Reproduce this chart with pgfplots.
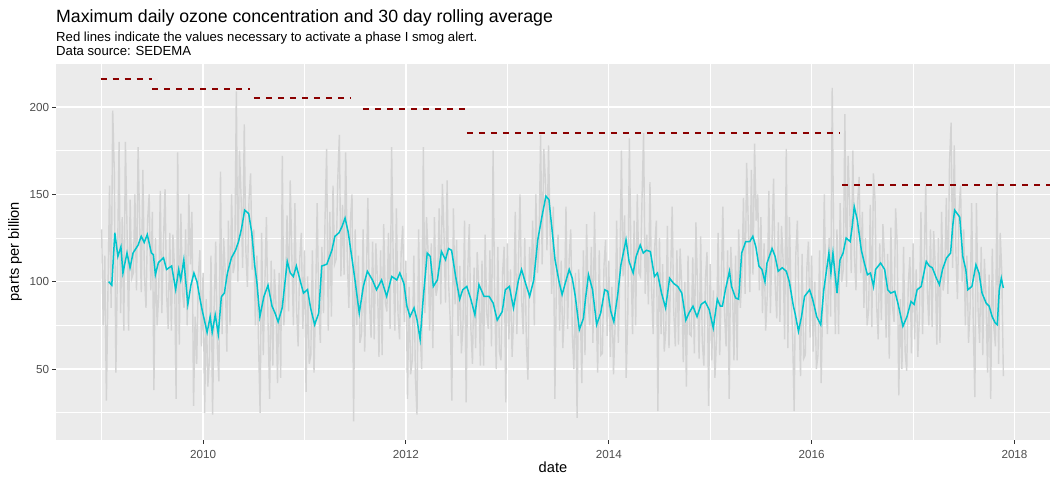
\documentclass[border=0pt]{standalone}
\usepackage{fontspec}
\setmainfont{Liberation Sans}
\usepackage{pgfplots}
\pgfplotsset{compat=1.18}
\definecolor{panel}{HTML}{EBEBEB}
\definecolor{dayline}{HTML}{D3D3D3}
\definecolor{rollcyan}{HTML}{00C5CD}
\definecolor{alertred}{HTML}{8B0000}
\definecolor{grey30}{HTML}{4D4D4D}
\definecolor{grey20}{HTML}{333333}
\begin{document}
\begin{tikzpicture}
\useasboundingbox (-56bp,-40bp) rectangle (1000bp,440bp);
\begin{axis}[
  at={(0,0)}, anchor=south west,
  width=994bp, height=377bp, scale only axis,
  xmin=2008.55, xmax=2018.35, ymin=9.4, ymax=225.2,
  axis background/.style={fill=panel},
  axis line style={draw=none},
  xtick={2010,2012,2014,2016,2018},
  xticklabels={2010,2012,2014,2016,2018},
  minor xtick={2009,2011,2013,2015,2017},
  ytick={50,100,150,200},
  yticklabels={50,100,150,200},
  minor ytick={25,75,125,175,225},
  grid=both,
  major grid style={white, line width=1.3bp},
  minor grid style={white, line width=0.65bp},
  tick align=outside, tick pos=left,
  major tick length=3.7bp, minor tick length=0pt,
  tick style={color=grey20, line width=1bp},
  ticklabel style={font=\fontsize{11.7}{13}\selectfont, text=grey30},
  xticklabel style={anchor=north, inner sep=0pt, yshift=-6.5bp},
  yticklabel style={anchor=east, inner sep=0pt, xshift=-3bp},
  xlabel={date}, ylabel={parts per billion},
  label style={font=\fontsize{14.7}{16}\selectfont},
  xlabel style={at={(axis description cs:0.5,-0.072)}, anchor=center},
  ylabel style={at={(axis description cs:-0.0412,0.5)}, anchor=center},
  unbounded coords=jump,
  /pgf/number format/assume math mode=true,
]
% daily maximum, one value every 1/64 year from 2009-01-01
\addplot[dayline, line width=1.4bp] table[row sep=\\, header=false, x expr={2009+\coordindex/64}, y index=0] {
130\\75\\115\\32\\95\\155\\85\\198\\163\\48\\110\\180\\82\\137\\72\\180\\132\\72\\147\\102\\105\\150\\95\\177\\134\\94\\164\\104\\85\\135\\150\\95\\
140\\38\\125\\75\\92\\152\\82\\122\\153\\93\\73\\128\\72\\127\\107\\33\\174\\64\\139\\94\\85\\130\\75\\150\\110\\140\\29\\80\\53\\103\\118\\63\\
105\\25\\90\\40\\55\\115\\24\\85\\123\\63\\43\\163\\70\\125\\105\\60\\135\\75\\150\\105\\110\\209\\100\\175\\148\\108\\190\\118\\97\\147\\162\\107\\
130\\75\\115\\65\\25\\128\\58\\98\\137\\77\\33\\112\\52\\107\\87\\42\\105\\45\\172\\75\\93\\138\\83\\158\\115\\75\\145\\85\\63\\113\\128\\73\\
118\\37\\103\\53\\58\\118\\48\\88\\145\\85\\65\\120\\82\\137\\176\\72\\140\\80\\155\\110\\113\\158\\184\\103\\144\\104\\174\\114\\85\\135\\150\\20\\
130\\75\\115\\65\\70\\130\\60\\100\\148\\88\\68\\123\\67\\122\\102\\57\\118\\58\\133\\88\\83\\128\\73\\177\\112\\72\\142\\82\\67\\117\\132\\77\\
112\\33\\97\\47\\55\\115\\45\\24\\130\\70\\50\\177\\82\\137\\117\\72\\122\\62\\137\\92\\97\\142\\87\\156\\128\\88\\158\\98\\77\\32\\142\\87\\
124\\69\\109\\59\\75\\135\\31\\105\\133\\73\\53\\108\\62\\117\\97\\52\\112\\52\\127\\82\\73\\118\\63\\175\\90\\50\\120\\60\\55\\105\\120\\31\\
122\\67\\107\\57\\80\\140\\70\\110\\150\\90\\70\\125\\65\\44\\120\\100\\135\\75\\150\\105\\120\\184\\110\\176\\158\\118\\178\\128\\93\\143\\33\\103\\
127\\72\\112\\62\\83\\143\\73\\113\\130\\70\\50\\105\\22\\107\\87\\42\\118\\58\\133\\88\\75\\120\\65\\140\\88\\48\\118\\58\\59\\109\\124\\69\\
112\\57\\97\\47\\75\\135\\65\\105\\175\\103\\138\\45\\80\\182\\115\\70\\135\\75\\150\\105\\103\\148\\185\\93\\127\\87\\157\\97\\70\\120\\135\\26\\
125\\70\\110\\60\\72\\132\\62\\102\\143\\83\\63\\118\\64\\119\\99\\54\\100\\40\\115\\70\\69\\114\\59\\134\\96\\56\\126\\66\\52\\102\\117\\29\\
110\\55\\95\\45\\68\\128\\58\\98\\143\\83\\63\\118\\33\\120\\100\\55\\115\\55\\130\\85\\103\\148\\93\\168\\134\\94\\164\\104\\179\\135\\150\\95\\
137\\82\\122\\72\\92\\152\\82\\122\\159\\99\\79\\134\\77\\132\\112\\67\\176\\62\\137\\92\\70\\26\\115\\135\\86\\46\\116\\56\\58\\108\\123\\68\\
115\\60\\100\\50\\58\\118\\42\\88\\150\\90\\70\\125\\80\\211\\115\\70\\130\\70\\145\\100\\107\\196\\97\\172\\145\\105\\175\\115\\95\\145\\160\\105\\
140\\85\\125\\75\\84\\144\\74\\162\\147\\87\\67\\122\\78\\133\\113\\68\\116\\56\\131\\86\\77\\142\\122\\35\\90\\50\\120\\60\\49\\99\\114\\59\\
122\\67\\107\\57\\80\\140\\70\\110\\155\\95\\75\\130\\74\\129\\109\\64\\125\\65\\140\\95\\103\\148\\93\\168\\191\\108\\178\\118\\90\\140\\155\\100\\
130\\75\\115\\65\\85\\145\\75\\34\\145\\85\\65\\120\\58\\113\\93\\48\\104\\33\\119\\74\\63\\157\\53\\128\\105\\46\\
};
% 30 day rolling average
\addplot[rollcyan, line width=1.5bp] coordinates {
(2009.07,100) (2009.10,98) (2009.13,128) (2009.16,114.5) (2009.19,120) (2009.21,105)
(2009.25,116.5) (2009.28,108) (2009.31,116.5) (2009.36,121) (2009.39,126) (2009.42,122.5)
(2009.45,127) (2009.49,116.5) (2009.51,115.5) (2009.53,104) (2009.56,111) (2009.61,113.7)
(2009.64,107) (2009.69,109) (2009.73,95.5) (2009.76,107) (2009.78,101) (2009.81,112.5)
(2009.85,87) (2009.88,98) (2009.91,105) (2009.94,100) (2009.97,90) (2009.99,84)
(2010.04,71) (2010.07,80) (2010.09,71) (2010.12,81) (2010.15,70) (2010.18,91.4)
(2010.21,93.5) (2010.24,105) (2010.28,113.7) (2010.32,118) (2010.35,123) (2010.38,130.7)
(2010.41,141) (2010.45,139) (2010.48,128) (2010.51,109) (2010.53,100) (2010.56,80)
(2010.60,91.6) (2010.64,98) (2010.68,86) (2010.71,82) (2010.74,77) (2010.78,85)
(2010.83,111.6) (2010.86,105) (2010.89,103) (2010.92,109) (2010.96,100) (2010.99,93.5)
(2011.03,95.5) (2011.06,85) (2011.10,75.4) (2011.14,82) (2011.17,109) (2011.22,110)
(2011.27,118) (2011.30,126) (2011.34,128) (2011.37,131.6) (2011.40,136.4) (2011.43,128.7)
(2011.47,112.5) (2011.50,100) (2011.54,82) (2011.58,97.3) (2011.62,106) (2011.67,101)
(2011.71,95.4) (2011.76,101) (2011.81,91.6) (2011.86,103) (2011.91,101) (2011.94,105)
(2011.98,99) (2012.01,86) (2012.04,80) (2012.08,85) (2012.11,78) (2012.14,67)
(2012.17,90) (2012.21,116.4) (2012.24,114.5) (2012.27,97.3) (2012.31,101) (2012.35,117.3)
(2012.39,112.6) (2012.42,119) (2012.45,118) (2012.49,103) (2012.53,90) (2012.56,95.4)
(2012.60,97.3) (2012.64,90) (2012.68,81) (2012.72,98.3) (2012.77,91.6) (2012.82,91.6)
(2012.86,87.8) (2012.90,78) (2012.95,83) (2012.98,95.4) (2013.02,97.3) (2013.06,85)
(2013.11,101) (2013.14,107) (2013.18,99) (2013.22,91.6) (2013.26,101) (2013.30,124)
(2013.34,137) (2013.38,149) (2013.41,147) (2013.44,130) (2013.47,112.6) (2013.51,100)
(2013.54,92.6) (2013.57,99) (2013.61,107) (2013.64,102) (2013.67,91.6) (2013.71,72.6)
(2013.75,79) (2013.77,90) (2013.80,104) (2013.84,95.4) (2013.88,75.4) (2013.92,82)
(2013.96,95.4) (2013.99,94.5) (2014.02,83) (2014.05,77) (2014.09,93.5) (2014.12,109.7)
(2014.17,124) (2014.20,111.6) (2014.24,105) (2014.27,114.5) (2014.31,121) (2014.34,116.4)
(2014.37,118) (2014.41,117.3) (2014.45,103) (2014.48,105) (2014.52,93.5) (2014.56,85)
(2014.60,102) (2014.64,99) (2014.68,97.3) (2014.72,93.5) (2014.76,78) (2014.79,82)
(2014.83,86) (2014.87,80) (2014.91,87) (2014.95,88.7) (2014.99,84) (2015.03,73.5)
(2015.07,90) (2015.10,86) (2015.12,86) (2015.15,95.4) (2015.19,106) (2015.21,97.3)
(2015.25,90.7) (2015.28,90) (2015.31,116.4) (2015.35,123) (2015.39,123) (2015.42,126)
(2015.45,120) (2015.48,109) (2015.51,107) (2015.54,100) (2015.56,110.7) (2015.61,119)
(2015.64,114.5) (2015.67,106) (2015.71,108) (2015.75,106) (2015.78,100) (2015.82,86)
(2015.84,81) (2015.87,71.6) (2015.90,80) (2015.93,91.6) (2015.98,95.4) (2016.01,90)
(2016.05,80) (2016.09,75.4) (2016.12,95.4) (2016.17,116.4) (2016.19,105) (2016.21,116.4)
(2016.25,93.5) (2016.28,112.6) (2016.31,116.4) (2016.34,125) (2016.38,123) (2016.40,131.6)
(2016.42,143) (2016.45,135.4) (2016.49,118) (2016.52,110.7) (2016.55,104) (2016.58,105)
(2016.61,97.3) (2016.63,107) (2016.68,110.7) (2016.72,107) (2016.75,95.4) (2016.78,93.5)
(2016.82,94.5) (2016.85,87.8) (2016.90,74.5) (2016.94,80) (2016.98,88.7) (2017.01,87)
(2017.04,95.4) (2017.08,97.3) (2017.13,111.6) (2017.16,109) (2017.19,108) (2017.23,102)
(2017.26,98.3) (2017.29,107) (2017.33,113.6) (2017.37,116.4) (2017.39,131.6) (2017.41,141)
(2017.46,137) (2017.49,114.5) (2017.52,107) (2017.54,95.4) (2017.58,97.3) (2017.62,109.7)
(2017.65,105) (2017.68,93.5) (2017.72,87.8) (2017.75,86) (2017.78,80) (2017.81,76.4)
(2017.83,75.4) (2017.85,95.4) (2017.87,102) (2017.89,96.4)
};
% phase I alert thresholds, one segment per period
\addplot[draw=alertred, line width=1.7bp, dash pattern=on 6bp off 6bp] coordinates {
(2008.99,216) (2009.50,216) (2009.50,nan)
(2009.50,210.25) (2010.46,210.25) (2010.46,nan)
(2010.50,205) (2011.46,205) (2011.46,nan)
(2011.58,199) (2012.60,199) (2012.60,nan)
(2012.60,185) (2016.27,185) (2016.27,nan)
(2016.30,155.25) (2018.35,155.25)
};
\end{axis}
\node[anchor=base west, inner sep=0pt, font=\fontsize{17.8}{20}\selectfont] at (0,417.5bp) {Maximum daily ozone concentration and 30 day rolling average};
\node[anchor=base west, inner sep=0pt, font=\fontsize{13.2}{15}\selectfont] at (0,398bp) {Red lines indicate the values necessary to activate a phase I smog alert.};
\node[anchor=base west, inner sep=0pt, font=\fontsize{13.2}{15}\selectfont] at (0,384bp) {Data source: SEDEMA};
\end{tikzpicture}
\end{document}
